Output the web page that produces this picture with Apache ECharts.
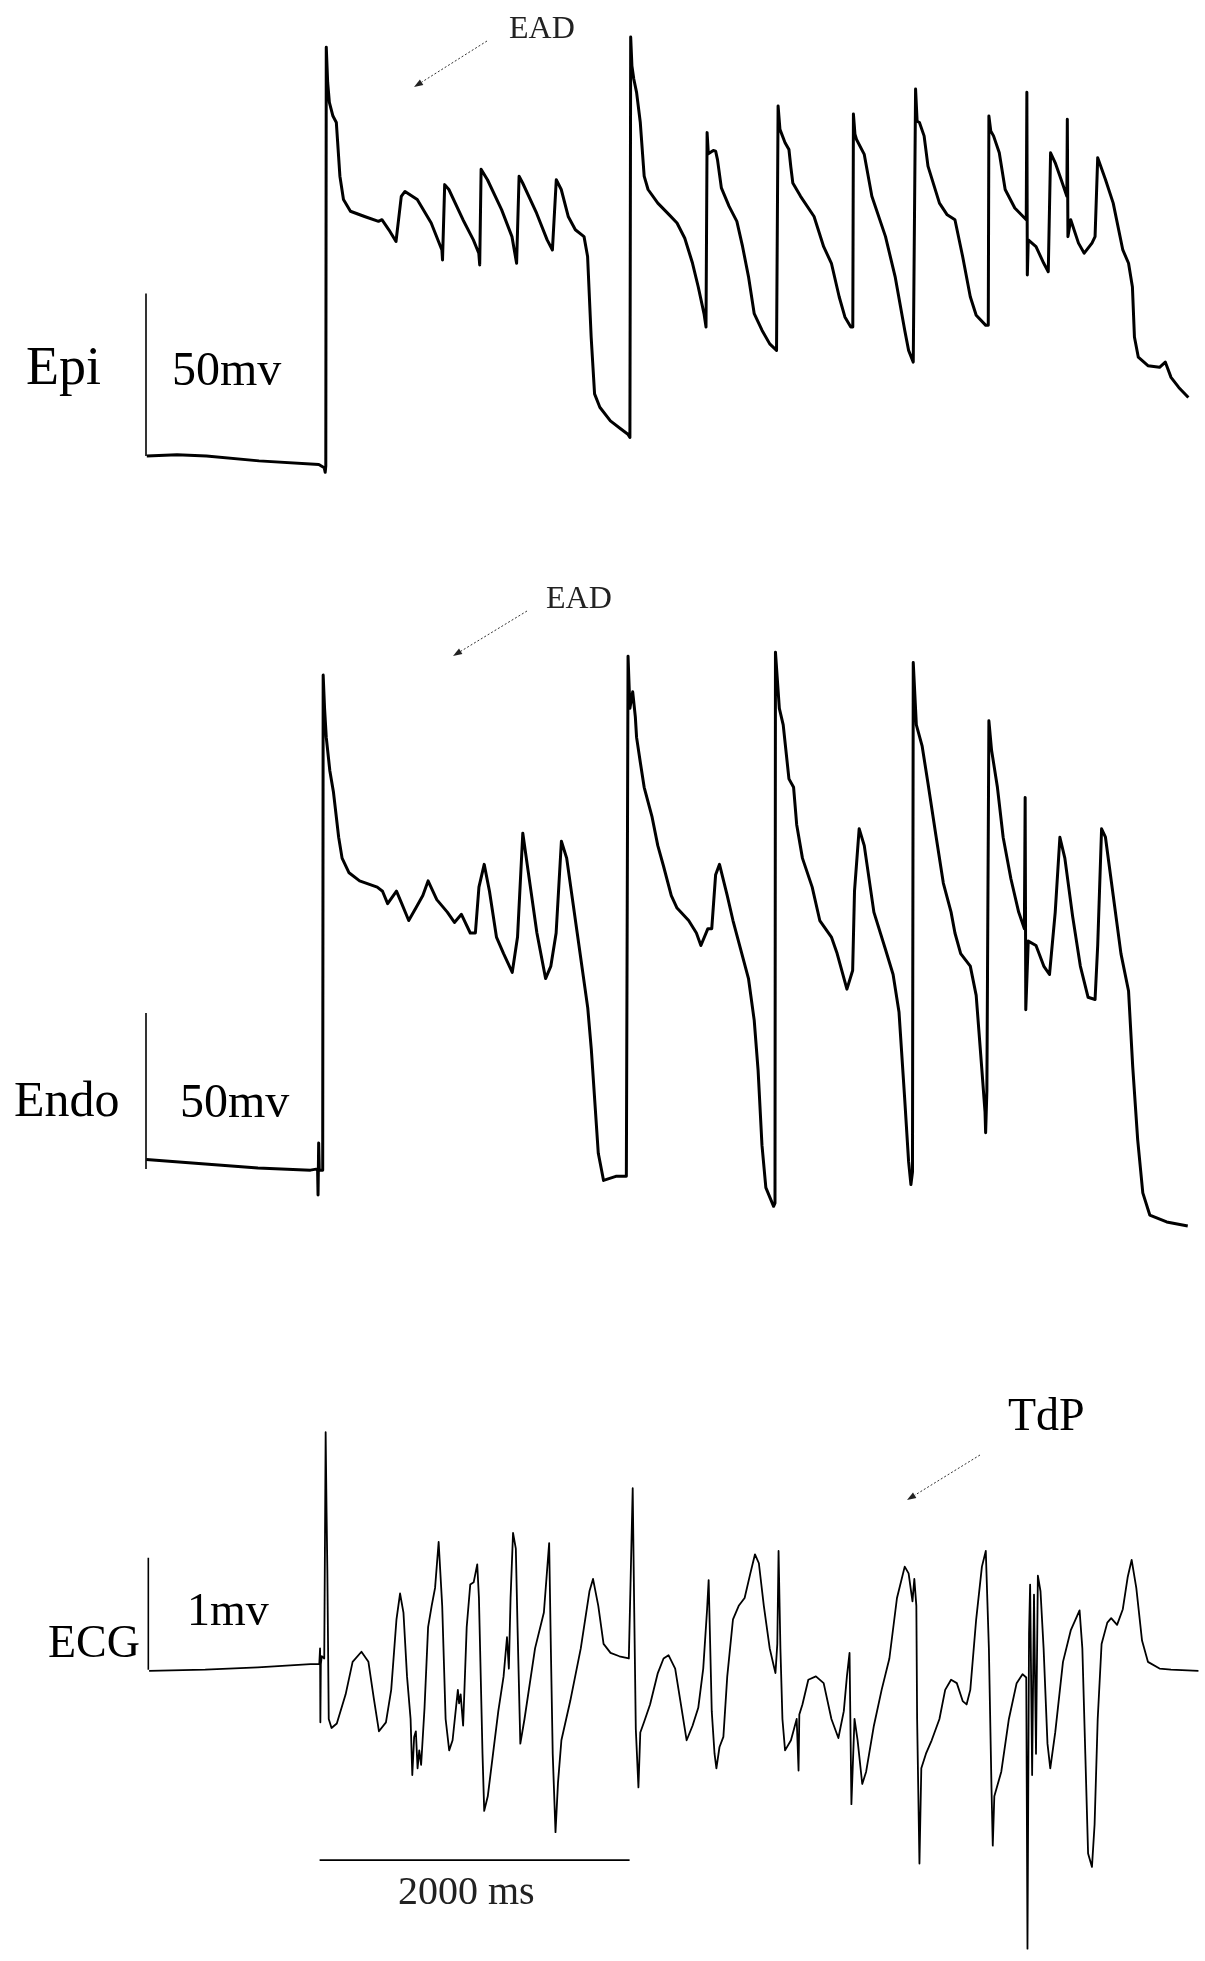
<!DOCTYPE html>
<html>
<head>
<meta charset="utf-8">
<script src="https://cdn.jsdelivr.net/npm/echarts@6/dist/echarts.min.js"></script>
<style>
html, body { margin: 0; padding: 0; background: #fff; }
#chart1 { width: 1205px; height: 1961px; }
</style>
</head>
<body>
<div id="chart1"></div>
<script>
// time in ms, potential in mV (ECG in mV)
var epiTrace = [
    [5,-85],[200,-84.6],[390,-85],[729,-86.5],[1115,-87.6],[1150,-88.6],[1156,-90],[1160,-88],[1163,40.8],[1172,30],[1183,23.8],
    [1206,19.6],[1228,17.6],[1251,1.1],[1274,-6.1],[1319,-9.7],[1410,-11.3],[1500,-12.8],[1522,-12.3],[1567,-15.4],
    [1613,-19],[1647,-5.1],[1671,-3.6],[1750,-6.1],[1840,-13.3],[1909,-21.6],[1913,-24.7],[1927,-1.5],[1954,-3],
    [2045,-12.3],[2112,-18.5],[2147,-22.6],[2153,-26.2],[2162,3.2],[2203,0],[2294,-9.2],[2361,-17.5],[2391,-25.7],
    [2407,1.1],[2430,-1],[2520,-10.3],[2588,-18.5],[2622,-21.6],[2647,0],[2679,-3],[2724,-11.3],[2770,-15.4],
    [2826,-17.5],[2849,-23.6],[2872,-48.4],[2894,-65.9],[2928,-70],[2996,-74.2],[3064,-76.7],[3109,-78.3],[3122,-79.3],
    [3127,43.9],[3135,35],[3147,31],[3165,26.9],[3189,17.6],[3214,1.1],[3239,-3],[3302,-7.2],[3376,-10.8],[3426,-13.3],
    [3476,-18],[3526,-25.7],[3563,-33],[3600,-41.2],[3613,-45.3],[3617,-45.3],[3620,14.5],[3628,8],[3638,7.8],[3660,9],
    [3675,8.8],[3687,6.2],[3712,-2.5],[3762,-8.2],[3812,-12.8],[3849,-20.6],[3887,-29.8],[3924,-41.2],[3974,-46.3],
    [4024,-50.5],[4068,-52.5],[4075,-52.5],[4078,22.7],[4090,15.5],[4098,15.5],[4123,11.4],[4148,9.3],[4153,9.9],
    [4160,4],[4173,-1],[4223,-5.1],[4310,-11.3],[4372,-20.6],[4422,-25.7],[4472,-36],[4509,-42.2],[4547,-45.3],
    [4560,-45.3],[4564,20.2],[4574,14],[4584,12.4],[4634,7.8],[4683,-5.1],[4771,-17.5],[4833,-29.8],[4895,-46.3],
    [4920,-52.5],[4950,-56.1],[4962,-56.1],[4965,27.9],[4975,18],[4990,17.6],[5020,13.5],[5045,4.2],[5119,-7.2],
    [5169,-10.8],[5219,-12.3],[5269,-23.7],[5318,-36],[5356,-41.7],[5418,-44.8],[5434,-44.8],[5438,19.6],[5450,15],
    [5468,13.5],[5505,8.3],[5543,-3],[5605,-8.7],[5679,-12.3],[5683,26.9],[5686,-29.3],[5692,-18.5],[5742,-20.6],
    [5792,-25.7],[5821,-28.3],[5832,-28],[5836,8.3],[5866,5.2],[5904,0.1],[5941,-5.1],[5944,18.6],[5948,-17.5],
    [5966,-12.3],[6016,-19.5],[6053,-22.6],[6103,-19.5],[6123,-17.5],[6140,6.8],[6190,0.1],[6240,-7.2],[6302,-21.6],
    [6339,-25.7],[6364,-33],[6377,-48.4],[6402,-54.6],[6464,-57.2],[6539,-57.7],[6576,-56.1],[6613,-60.8],[6663,-63.9],
    [6725,-67]
];

var endoTrace = [
    [2,-81],[382,-82.4],[722,-83.7],[1061,-84.4],[1107,-84],[1110,-92.4],[1114,-75.7],[1118,-84.4],[1140,-84.4],
    [1143,74.3],[1152,63.6],[1163,54.3],[1186,43.6],[1209,36.9],[1243,22.3],[1265,15.6],[1310,10.9],[1378,8.3],
    [1492,6.3],[1526,5],[1559,1],[1616,5],[1650,1],[1695,-4.4],[1741,-0.4],[1786,3.6],[1820,8.3],[1876,2.3],
    [1944,-1.7],[1990,-5],[2035,-2.4],[2092,-8.4],[2125,-8.4],[2148,6.3],[2182,13.6],[2216,5],[2261,-9.7],[2307,-15],
    [2363,-21],[2397,-9.7],[2431,23.6],[2465,11.6],[2522,-8.4],[2578,-23],[2612,-19],[2646,-8.4],[2680,21],[2714,15.6],
    [2782,-8.4],[2850,-32.4],[2873,-45.7],[2918,-79],[2952,-87.7],[3031,-86.4],[3099,-86.4],[3108,-86.4],
    [3110,80.3],[3122,63.6],[3140,68.9],[3157,60.9],[3165,54.3],[3189,46.3],[3214,38.3],[3264,29],[3302,19.6],
    [3339,13],[3389,3.6],[3426,-0.4],[3501,-4.4],[3551,-8.4],[3580,-12.4],[3625,-7],[3650,-7],[3675,10.3],[3700,13.6],
    [3750,3.6],[3787,-4.4],[3837,-13.7],[3887,-23],[3924,-36.4],[3949,-52.4],[3974,-76.4],[3999,-90],[4049,-96],
    [4058,-95],[4061,81.6],[4086,63.6],[4111,58.3],[4148,41],[4178,38.3],[4198,26.3],[4235,15.6],[4298,6.3],
    [4347,-4.4],[4422,-9.7],[4459,-15],[4522,-26.4],[4559,-20.4],[4571,5],[4601,25],[4634,19.6],[4696,-1.7],
    [4771,-13.7],[4820,-21.7],[4858,-33.7],[4895,-61.7],[4920,-81.7],[4935,-89],[4945,-85],[4950,78.3],[4970,58.3],
    [5007,51.6],[5045,39.6],[5094,23.6],[5144,7.6],[5194,-1.7],[5219,-8.4],[5256,-15],[5318,-19],[5356,-28.4],
    [5393,-52.4],[5413,-65.7],[5417,-72.4],[5425,-59],[5438,59.6],[5455,50.3],[5493,38.3],[5530,22.3],[5580,9],
    [5630,-1.7],[5667,-7],[5672,35],[5676,-33],[5692,-11],[5742,-12.4],[5792,-19],[5829,-21.7],[5866,-1.7],[5896,22.3],
    [5928,15.6],[5978,-3],[6028,-19],[6078,-29],[6123,-29.7],[6140,-12.4],[6165,25],[6190,22.3],[6240,3.6],[6290,-15],
    [6339,-27],[6366,-51.3],[6398,-74.7],[6431,-91.7],[6476,-98.8],[6585,-101],[6721,-102.3]
];

var ecgTrace = [
    [20,-0.01],[382,0],[722,0.02],[1061,0.05],[1118,0.05],[1123,0.19],[1125,-0.47],[1128,0.05],[1134,0.12],[1150,0.1],
    [1159,2.12],[1165,1.4],[1170,0.89],[1179,-0.44],[1197,-0.52],[1231,-0.48],[1288,-0.22],[1333,0.07],[1390,0.16],
    [1435,0.07],[1469,-0.25],[1503,-0.55],[1548,-0.47],[1582,-0.18],[1616,0.45],[1639,0.68],[1661,0.51],[1684,-0.06],
    [1707,-0.44],[1718,-0.94],[1730,-0.6],[1741,-0.55],[1752,-0.88],[1763,-0.72],[1775,-0.85],[1797,-0.34],[1820,0.38],
    [1843,0.57],[1865,0.73],[1888,1.14],[1911,0.57],[1933,-0.44],[1956,-0.72],[1978,-0.63],[2012,-0.18],[2020,-0.3],
    [2030,-0.22],[2046,-0.5],[2069,0.38],[2092,0.76],[2114,0.78],[2137,0.94],[2148,0.64],[2171,-0.75],[2182,-1.26],
    [2205,-1.13],[2239,-0.75],[2273,-0.37],[2307,-0.06],[2329,0.29],[2341,0.01],[2352,0.64],[2368,1.22],[2386,1.08],
    [2397,0.38],[2415,-0.66],[2442,-0.44],[2510,0.19],[2567,0.51],[2601,1.13],[2612,0.19],[2624,-0.75],[2642,-1.45],
    [2658,-1.01],[2680,-0.63],[2737,-0.28],[2805,0.19],[2861,0.7],[2884,0.81],[2918,0.57],[2952,0.23],[2997,0.15],
    [3054,0.12],[3115,0.1],[3127,0.83],[3140,1.62],[3150,0.51],[3160,-0.53],[3177,-1.05],[3189,-0.56],[3215,-0.46],
    [3252,-0.31],[3302,-0.03],[3339,0.1],[3371,0.13],[3414,0.01],[3451,-0.31],[3488,-0.63],[3526,-0.5],[3563,-0.34],
    [3595,0.01],[3620,0.54],[3630,0.8],[3650,-0.37],[3668,-0.75],[3680,-0.88],[3700,-0.69],[3725,-0.6],[3750,-0.06],
    [3787,0.45],[3824,0.57],[3862,0.64],[3899,0.86],[3929,1.03],[3954,0.95],[3986,0.57],[4024,0.19],[4049,0.04],
    [4061,-0.03],[4073,0.23],[4081,1.06],[4093,0.19],[4106,-0.44],[4123,-0.72],[4161,-0.63],[4198,-0.44],[4210,-0.9],
    [4215,-0.4],[4235,-0.31],[4273,-0.09],[4322,-0.06],[4372,-0.12],[4422,-0.44],[4467,-0.61],[4502,-0.37],[4522,-0.06],
    [4539,0.15],[4551,-1.2],[4571,-0.44],[4591,-0.63],[4621,-1.02],[4646,-0.91],[4696,-0.5],[4746,-0.18],[4796,0.1],
    [4845,0.64],[4895,0.92],[4920,0.86],[4945,0.61],[4957,0.81],[4970,0.57],[4975,-0.44],[4990,-1.73],[5002,-0.88],
    [5032,-0.75],[5069,-0.63],[5119,-0.44],[5156,-0.18],[5194,-0.09],[5231,-0.12],[5269,-0.28],[5294,-0.31],
    [5318,-0.18],[5356,0.45],[5393,0.92],[5418,1.06],[5438,0.19],[5455,-1.07],[5463,-1.57],[5473,-1.13],[5518,-0.91],
    [5567,-0.44],[5617,-0.12],[5655,-0.04],[5679,-0.07],[5687,-2.49],[5697,0.32],[5704,0.76],[5717,-0.94],[5729,0.67],
    [5742,-0.75],[5754,0.84],[5771,0.7],[5791,0.19],[5816,-0.66],[5834,-0.88],[5866,-0.56],[5916,0.07],[5966,0.35],
    [6023,0.53],[6041,0.19],[6060,-0.75],[6078,-1.64],[6103,-1.76],[6120,-1.38],[6140,-0.44],[6165,0.23],[6202,0.42],
    [6227,0.46],[6265,0.4],[6302,0.54],[6334,0.83],[6359,0.98],[6389,0.73],[6426,0.26],[6464,0.07],[6539,0.01],
    [6613,0],[6790,-0.01]
];

// scale bars
var epiBar = [[0,-85],[0,-35]];
var endoBar = [[0,-84],[0,-34]];
var ecgBar = [[15,0],[15,1]];
var timeBar = [[1120,-1.7],[3120,-1.7]];

var FONT = 'Liberation Serif';

function label(text, x, y, size, color) {
    return {
        type: 'text', x: x, y: y, silent: true,
        style: { text: text, fontSize: size, fontFamily: FONT, fill: color || '#000', align: 'left', verticalAlign: 'middle' }
    };
}

// dotted pointer with a small head at (x2, y2)
function arrow(x1, y1, x2, y2) {
    var a = Math.atan2(y2 - y1, x2 - x1), L = 9, W = 3.2;
    var bx = x2 - L * Math.cos(a), by = y2 - L * Math.sin(a);
    var px = -Math.sin(a) * W, py = Math.cos(a) * W;
    return [
        { type: 'line', silent: true, shape: { x1: x1, y1: y1, x2: bx, y2: by }, style: { stroke: '#333', lineWidth: 1, lineDash: [2, 2] } },
        { type: 'polygon', silent: true, shape: { points: [[x2, y2], [bx + px, by + py], [bx - px, by - py]] }, style: { fill: '#222' } }
    ];
}

function trace(data, idx, width) {
    return {
        type: 'line', xAxisIndex: idx, yAxisIndex: idx, data: data,
        symbol: 'none', showSymbol: false, clip: false, silent: true,
        lineStyle: { color: '#000', width: width, join: 'round' }
    };
}

var xAx = function (i) {
    return { type: 'value', gridIndex: i, min: 0, max: 6800, show: false };
};

option = {
    backgroundColor: '#fff',
    animation: false,
    grid: [
        { left: 146, top: 17.25, width: 1054, height: 471.25 },  // Epi
        { left: 146, top: 626, width: 1054, height: 624 },       // Endo
        { left: 146, top: 1400.8, width: 1054, height: 565 }     // ECG
    ],
    xAxis: [xAx(0), xAx(1), xAx(2)],
    yAxis: [
        { type: 'value', gridIndex: 0, min: -95, max: 50, show: false },
        { type: 'value', gridIndex: 1, min: -110, max: 90, show: false },
        { type: 'value', gridIndex: 2, min: -2.6, max: 2.4, show: false }
    ],
    series: [
        trace(epiTrace, 0, 3),
        trace(endoTrace, 1, 3),
        trace(ecgTrace, 2, 1.8),
        trace(epiBar, 0, 1.6),
        trace(endoBar, 1, 1.6),
        trace(ecgBar, 2, 1.6),
        trace(timeBar, 2, 1.6)
    ],
    graphic: [].concat(
        [
            label('Epi', 26, 370, 54),
            label('50mv', 172, 372, 48),
            label('Endo', 14, 1103, 50),
            label('50mv', 180, 1104, 48),
            label('ECG', 48, 1645, 46),
            label('1mv', 187, 1613, 46),
            label('EAD', 509, 30, 32, '#222'),
            label('EAD', 546, 600, 32, '#222'),
            label('TdP', 1008, 1418, 46),
            label('2000 ms', 398, 1893, 40, '#222')
        ],
        arrow(487, 41, 414, 87),
        arrow(527, 611, 453, 656),
        arrow(980, 1455, 907, 1500)
    )
};

var myChart = echarts.init(document.getElementById('chart1'));
myChart.setOption(option);
</script>
</body>
</html>
